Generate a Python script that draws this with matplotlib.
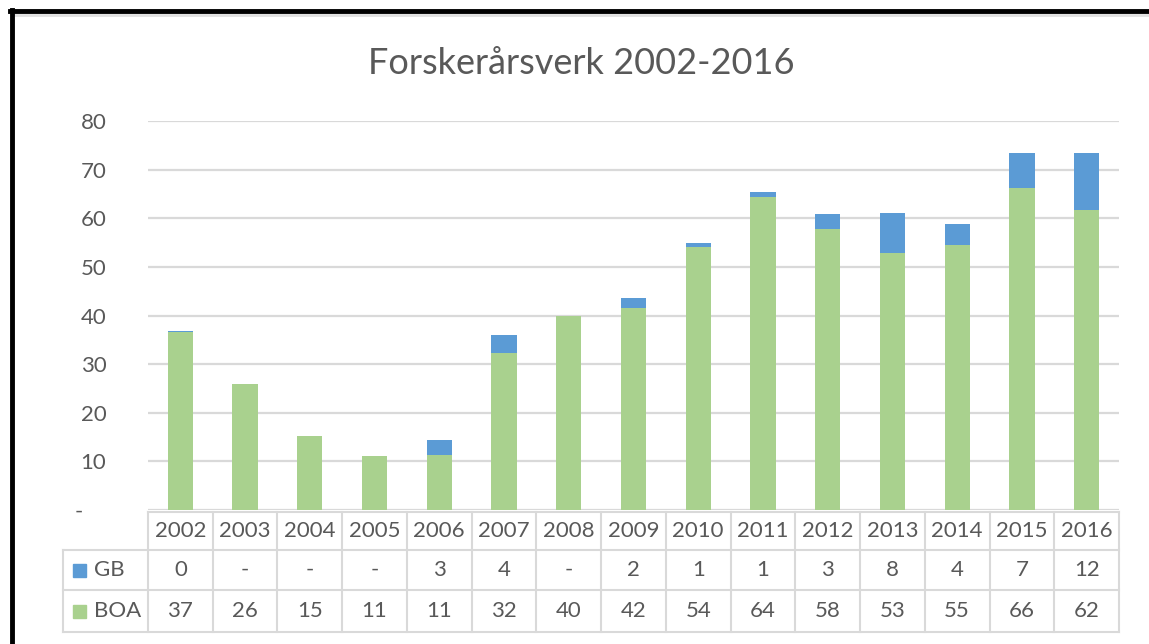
import numpy as np
import matplotlib
matplotlib.use("Agg")
import matplotlib.pyplot as plt
from matplotlib.lines import Line2D
from matplotlib.patches import Rectangle
import matplotlib.transforms as mtransforms

plt.rcParams['font.family'] = ['Lato', 'DejaVu Sans']

years = ['2002', '2003', '2004', '2005', '2006', '2007', '2008', '2009',
         '2010', '2011', '2012', '2013', '2014', '2015', '2016']
boa = np.array([36.6, 25.9, 15.2, 11.1, 11.4, 32.3, 39.9, 41.6,
                54.1, 64.4, 57.8, 52.9, 54.6, 66.3, 61.7])
gb = np.array([0.3, 0, 0, 0, 3.0, 3.6, 0, 2.0,
               0.8, 1.0, 3.1, 8.2, 4.2, 7.2, 11.8])
yticks = [0, 10, 20, 30, 40, 50, 60, 70, 80]

GREEN = '#A9D18E'
BLUE = '#5B9BD5'
TXT = '#595959'
GRID = '#D9D9D9'


def fmt(v):
    return '-' if v == 0 else '%.0f' % v


fig = plt.figure(figsize=(11.49, 6.44), dpi=100)
ax = fig.add_axes([148 / 1149, 1 - 510 / 644, (1119 - 148) / 1149, (510 - 121) / 644])

x = np.arange(len(years))
ax.bar(x, boa, width=0.39, color=GREEN, zorder=2)
ax.bar(x, gb, width=0.39, bottom=boa, color=BLUE, zorder=2)

ax.set_xlim(-0.5, len(years) - 0.5)
ax.set_ylim(0, 80)
ax.set_yticks(yticks)
ax.set_yticklabels(['-    '] + [str(t) for t in yticks[1:]])
ax.set_xticks([])
ax.tick_params(axis='y', length=0, pad=30, labelsize=16, labelcolor=TXT)
for s in ax.spines.values():
    s.set_visible(False)
ax.grid(axis='y', color=GRID, linewidth=1.6, zorder=0)

fig.text(0.506, 1 - 64 / 644, 'Forskerårsverk 2002-2016', ha='center', va='center',
         fontsize=26, color=TXT)

# data table under the bars
trans = mtransforms.blended_transform_factory(ax.transData, ax.transAxes)
h = 389.0
r0, r1, r2, r3 = -2 / h, -40 / h, -80 / h, -122 / h
xl, xr, xlab = -0.5, len(years) - 0.5, -1.81
lw = 1.5
kw = dict(transform=trans, color=GRID, linewidth=lw, clip_on=False)
ax.add_line(Line2D([xl, xr], [r0, r0], **kw))
for yy in (r1, r2, r3):
    ax.add_line(Line2D([xlab, xr], [yy, yy], **kw))
for i in range(len(years) + 1):
    ax.add_line(Line2D([i - 0.5, i - 0.5], [r0, r3], **kw))
ax.add_line(Line2D([xlab, xlab], [r1, r3], **kw))

tk = dict(transform=trans, ha='center', va='center', fontsize=16, color=TXT, clip_on=False)
for i, yr in enumerate(years):
    ax.text(i, (r0 + r1) / 2, yr, **tk)
    ax.text(i, (r1 + r2) / 2, fmt(gb[i]), **tk)
    ax.text(i, (r2 + r3) / 2, fmt(boa[i]), **tk)

for name, col, yy in (('GB', BLUE, (r1 + r2) / 2), ('BOA', GREEN, (r2 + r3) / 2)):
    ax.add_patch(Rectangle((-1.66, yy - 6.5 / h), 0.2, 13 / h, transform=trans,
                           color=col, clip_on=False))
    ax.text(-1.33, yy, name, transform=trans, ha='left', va='center',
            fontsize=16, color=TXT, clip_on=False)

# black frame at top and left
fig.add_artist(Line2D([12 / 1149, 1], [1 - 15 / 644, 1 - 15 / 644], color='#E0E0E0', linewidth=2))
fig.add_artist(Line2D([10 / 1149, 1], [1 - 11 / 644, 1 - 11 / 644], color='black', linewidth=3.5))
fig.add_artist(Line2D([12 / 1149, 12 / 1149], [0, 1 - 10 / 644], color='black', linewidth=3.5))

fig.savefig('out.png', dpi=100)
